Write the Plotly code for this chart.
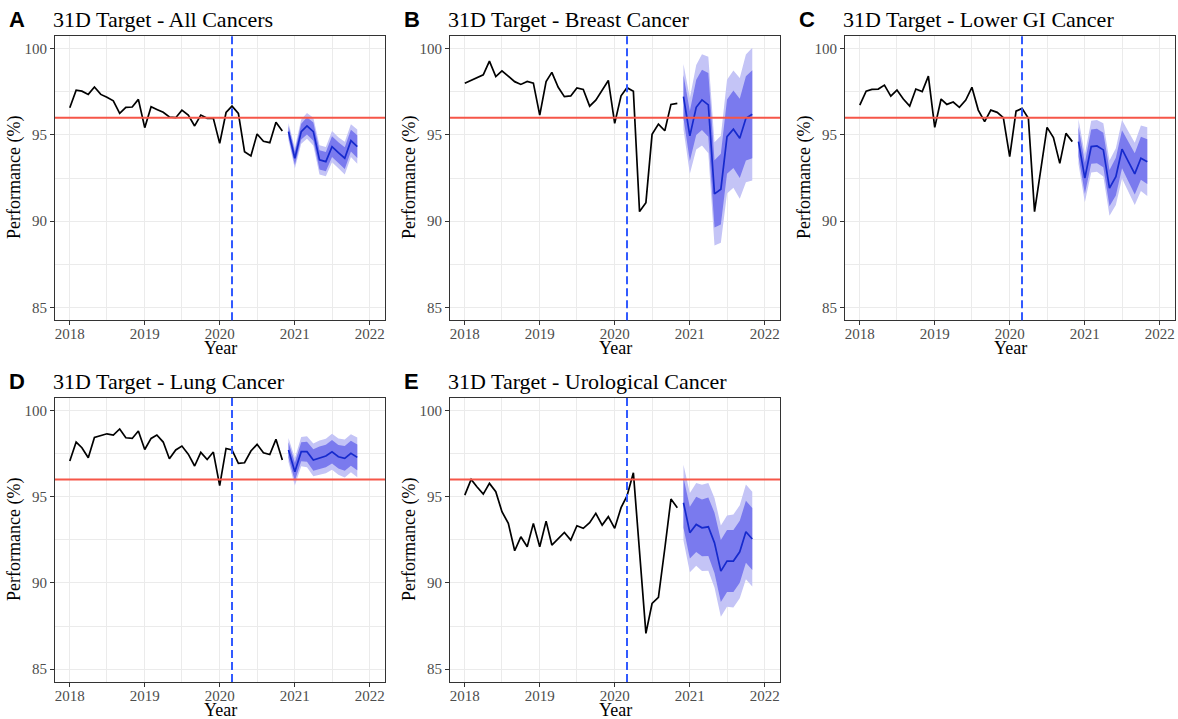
import pandas as pd
import plotly.graph_objects as go

# ---------------- data ----------------
TARGET = 96
INTERVENTION = "2020-03-01"
OBS_START = "2018-01-01"
FC_START = "2020-12-01"

PANEL_LETTERS = ["A", "B", "C", "D", "E"]
PANEL_TITLES = [
    "31D Target - All Cancers",
    "31D Target - Breast Cancer",
    "31D Target - Lower GI Cancer",
    "31D Target - Lung Cancer",
    "31D Target - Urological Cancer",
]

A_obs = [96.58, 97.60, 97.54, 97.35, 97.78, 97.35, 97.18, 96.98, 96.25, 96.60, 96.62, 97.06,
         95.42, 96.64, 96.48, 96.31, 96.04, 96.00, 96.44, 96.15, 95.52, 96.15, 95.96, 95.96,
         94.51, 96.30, 96.67, 96.25, 94.03, 93.78, 95.05, 94.63, 94.55, 95.73, 95.23]
A_fc = [95.19, 93.65, 95.19, 95.52, 95.19, 93.55, 93.45, 94.32, 93.97, 93.65, 94.67, 94.32]
A_pi95 = [0.5, 0.6, 0.7, 0.75, 0.8, 0.85, 0.85, 0.9, 0.9, 0.95, 0.95, 1.0]
A_pi80 = [0.33, 0.4, 0.46, 0.5, 0.53, 0.56, 0.56, 0.6, 0.6, 0.63, 0.63, 0.66]

B_obs = [98.00, 98.18, 98.34, 98.49, 99.28, 98.38, 98.72, 98.41, 98.09, 97.93, 98.10, 98.00,
         96.15, 98.10, 98.63, 97.76, 97.22, 97.26, 97.72, 97.64, 96.67, 97.02, 97.60, 98.16,
         95.67, 97.27, 97.74, 97.53, 90.55, 91.07, 95.03, 95.63, 95.24, 96.77, 96.83]
B_fc = [97.22, 94.94, 96.60, 97.03, 96.74, 91.58, 91.85, 94.90, 95.33, 94.80, 95.96, 96.20]
B_pi95 = [1.9, 2.2, 2.45, 2.65, 2.8, 3.0, 3.1, 3.3, 3.4, 3.5, 3.7, 3.85]
B_pi80 = [1.25, 1.45, 1.6, 1.75, 1.85, 1.95, 2.05, 2.15, 2.25, 2.3, 2.45, 2.55]

C_obs = [96.73, 97.54, 97.64, 97.66, 97.89, 97.25, 97.60, 97.08, 96.67, 97.66, 97.51, 98.41,
         95.44, 97.08, 96.77, 96.91, 96.60, 97.02, 97.76, 96.44, 95.77, 96.44, 96.31, 96.00,
         93.74, 96.38, 96.54, 95.96, 90.55, 92.96, 95.44, 94.84, 93.35, 95.09, 94.61]
C_fc = [94.61, 92.49, 94.32, 94.36, 94.13, 91.91, 92.58, 94.17, 93.45, 92.74, 93.65, 93.45]
C_pi95 = [1.3, 1.4, 1.5, 1.5, 1.55, 1.6, 1.65, 1.7, 1.75, 1.8, 1.9, 2.0]
C_pi80 = [0.85, 0.9, 1.0, 1.0, 1.0, 1.05, 1.1, 1.1, 1.15, 1.2, 1.25, 1.3]

D_obs = [97.08, 98.18, 97.85, 97.27, 98.45, 98.57, 98.66, 98.59, 98.94, 98.43, 98.39, 98.82,
         97.75, 98.39, 98.59, 98.18, 97.21, 97.72, 97.95, 97.48, 96.79, 97.58, 97.17, 97.60,
         95.65, 97.81, 97.72, 96.94, 96.98, 97.66, 98.05, 97.56, 97.46, 98.34, 97.14]
D_fc = [97.72, 96.46, 97.62, 97.62, 97.14, 97.27, 97.37, 97.62, 97.33, 97.23, 97.53, 97.29]
D_pi95 = [0.7, 0.8, 0.85, 0.9, 0.95, 1.0, 1.0, 1.05, 1.05, 1.1, 1.1, 1.15]
D_pi80 = [0.45, 0.52, 0.55, 0.58, 0.62, 0.65, 0.65, 0.68, 0.68, 0.72, 0.72, 0.75]

E_obs = [95.10, 96.01, 95.59, 95.16, 95.78, 95.30, 94.14, 93.46, 91.87, 92.68, 92.10, 93.46,
         92.10, 93.59, 92.20, 92.55, 92.93, 92.49, 93.32, 93.17, 93.50, 94.04, 93.36, 93.85,
         93.17, 94.37, 95.05, 96.40, 91.70, 87.07, 88.81, 89.16, 92.00, 94.87, 94.37]
E_fc = [94.66, 92.92, 93.40, 93.20, 93.26, 92.33, 90.69, 91.27, 91.27, 91.81, 92.97, 92.55]
E_pi95 = [2.2, 2.3, 2.4, 2.5, 2.55, 2.6, 2.65, 2.65, 2.7, 2.7, 2.75, 2.75]
E_pi80 = [1.45, 1.5, 1.6, 1.65, 1.7, 1.75, 1.8, 1.8, 1.8, 1.8, 1.8, 1.8]

Y_TICKS = [85, 90, 95, 100]
X_TICK_LABELS = ["2018", "2019", "2020", "2021", "2022"]

# ---------------- figure ----------------
W, H = 1178, 719
obs_dates = pd.date_range(OBS_START, periods=len(A_obs), freq="MS")
fc_dates = pd.date_range(FC_START, periods=len(A_fc), freq="MS")

panels = [
    (A_obs, A_fc, A_pi80, A_pi95),
    (B_obs, B_fc, B_pi80, B_pi95),
    (C_obs, C_fc, C_pi80, C_pi95),
    (D_obs, D_fc, D_pi80, D_pi95),
    (E_obs, E_fc, E_pi80, E_pi95),
]

# pixel boxes (left, right, top, bottom) of each panel
col_px = [(55, 385), (450, 780), (845, 1175)]
row_px = [(35.8, 320.2), (397.8, 682.0)]

LIGHT = "rgb(196,196,246)"
DARK = "rgb(122,122,238)"
CENTER = "rgb(22,42,205)"
RED = "rgb(246,86,72)"
VBLUE = "rgb(50,90,255)"
GRID = "#EBEBEB"
SERIF = "Liberation Serif, Times New Roman, serif"
SANS = "Liberation Sans, Arial, sans-serif"

fig = go.Figure()
annotations = []
shapes = []

for k, (obs, fc, pi80, pi95) in enumerate(panels):
    r, c = divmod(k, 3)
    l, rr = col_px[c]
    t, b = row_px[r]
    xa = "x" if k == 0 else f"x{k+1}"
    ya = "y" if k == 0 else f"y{k+1}"
    xkey = "xaxis" if k == 0 else f"xaxis{k+1}"
    ykey = "yaxis" if k == 0 else f"yaxis{k+1}"

    lo95 = [m - h for m, h in zip(fc, pi95)]
    hi95 = [m + h for m, h in zip(fc, pi95)]
    lo80 = [m - h for m, h in zip(fc, pi80)]
    hi80 = [m + h for m, h in zip(fc, pi80)]

    fig.add_trace(go.Scatter(x=fc_dates, y=lo95, mode="lines", line=dict(width=0),
                             hoverinfo="skip", showlegend=False, xaxis=xa, yaxis=ya))
    fig.add_trace(go.Scatter(x=fc_dates, y=hi95, mode="lines", line=dict(width=0),
                             fill="tonexty", fillcolor=LIGHT, hoverinfo="skip",
                             showlegend=False, xaxis=xa, yaxis=ya))
    fig.add_trace(go.Scatter(x=fc_dates, y=lo80, mode="lines", line=dict(width=0),
                             hoverinfo="skip", showlegend=False, xaxis=xa, yaxis=ya))
    fig.add_trace(go.Scatter(x=fc_dates, y=hi80, mode="lines", line=dict(width=0),
                             fill="tonexty", fillcolor=DARK, hoverinfo="skip",
                             showlegend=False, xaxis=xa, yaxis=ya))
    fig.add_trace(go.Scatter(x=fc_dates, y=fc, mode="lines",
                             line=dict(color=CENTER, width=1.7),
                             showlegend=False, xaxis=xa, yaxis=ya))
    fig.add_trace(go.Scatter(x=obs_dates, y=obs, mode="lines",
                             line=dict(color="black", width=1.7),
                             showlegend=False, xaxis=xa, yaxis=ya))

    xdom = [l / W, rr / W]
    ydom = [1 - b / H, 1 - t / H]
    fig.layout[xkey] = dict(
        domain=xdom, anchor=ya, type="date",
        range=["2017-10-21", "2022-03-16"],
        tickmode="array",
        tickvals=[f"{y}-01-01" for y in X_TICK_LABELS],
        ticktext=X_TICK_LABELS,
        showgrid=True, gridcolor=GRID, gridwidth=1.1,
        minor=dict(dtick="M6", tick0="2018-07-01", showgrid=True, gridcolor=GRID,
                   gridwidth=0.6, ticks=""),
        ticks="outside", ticklen=4, tickcolor="#333333", tickwidth=1,
        ticklabelstandoff=-4,
        tickfont=dict(family=SERIF, size=15, color="#4D4D4D"),
        showline=True, linecolor="#333333", linewidth=1, mirror=True,
        zeroline=False,
    )
    fig.layout[ykey] = dict(
        domain=ydom, anchor=xa,
        range=[84.25, 100.75],
        tickmode="array", tickvals=Y_TICKS, ticktext=[str(v) for v in Y_TICKS],
        showgrid=True, gridcolor=GRID, gridwidth=1.1,
        minor=dict(dtick=2.5, tick0=82.5, showgrid=True, gridcolor=GRID,
                   gridwidth=0.6, ticks=""),
        ticks="outside", ticklen=4, tickcolor="#333333", tickwidth=1,
        tickfont=dict(family=SERIF, size=15, color="#4D4D4D"),
        showline=True, linecolor="#333333", linewidth=1, mirror=True,
        zeroline=False,
    )

    # target line and intervention line
    shapes.append(dict(type="line", xref=f"{xa} domain", yref=ya, x0=0, x1=1,
                       y0=TARGET, y1=TARGET, line=dict(color=RED, width=2), layer="above"))
    shapes.append(dict(type="line", xref=xa, yref=f"{ya} domain", x0=INTERVENTION,
                       x1=INTERVENTION, y0=0, y1=1,
                       line=dict(color=VBLUE, width=2, dash="8px,4px"), layer="above"))

    # panel letter + title
    annotations.append(dict(text=f"<b>{PANEL_LETTERS[k]}</b>", xref="paper", yref="paper",
                            x=(l - 48) / W, y=1 - (t - 16) / H, xanchor="left", yanchor="middle",
                            showarrow=False, font=dict(family=SANS, size=22, color="black")))
    annotations.append(dict(text=PANEL_TITLES[k], xref="paper", yref="paper",
                            x=(l - 4) / W, y=1 - (t - 16) / H, xanchor="left", yanchor="middle",
                            showarrow=False, font=dict(family=SERIF, size=22, color="black")))
    # axis titles
    annotations.append(dict(text="Year", xref="paper", yref="paper",
                            x=(l + rr) / 2 / W, y=1 - (b + 28) / H, xanchor="center",
                            yanchor="middle", showarrow=False,
                            font=dict(family=SERIF, size=18, color="black")))
    annotations.append(dict(text="Performance (%)", xref="paper", yref="paper",
                            x=(l - 40) / W, y=1 - (t + b) / 2 / H, xanchor="center",
                            yanchor="middle", textangle=-90, showarrow=False,
                            font=dict(family=SERIF, size=18, color="black")))

fig.update_layout(
    width=W, height=H,
    margin=dict(l=0, r=0, t=0, b=0),
    paper_bgcolor="white", plot_bgcolor="white",
    showlegend=False,
    shapes=shapes, annotations=annotations,
)

fig.write_html("out.html", config={"displayModeBar": False},
               post_script="document.body.style.margin='0';document.body.style.overflow='hidden';")
